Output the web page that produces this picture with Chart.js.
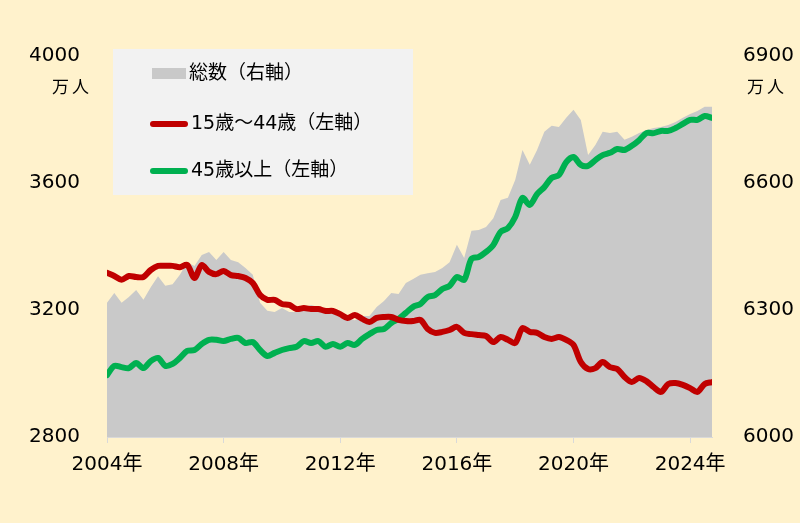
<!DOCTYPE html>
<html>
<head>
<meta charset="utf-8">
<script src="https://cdn.jsdelivr.net/npm/chart.js@4"></script>
<style>
  body { margin: 0; background: #FFF2CC; }
  #wrap { position: relative; width: 800px; height: 523px; background: #FFF2CC; }
  .unit { position: absolute; font: 17px 'Noto Sans CJK JP', sans-serif; color: #000; line-height: 20px; letter-spacing: 3px; }
  #legend { position: absolute; left: 113px; top: 49px; width: 300px; height: 146px; background: #F2F2F2; }
  .item { position: absolute; left: 37px; height: 24px; font: 19px 'DejaVu Sans', 'Noto Sans CJK JP', sans-serif; color: #000; line-height: 24px; white-space: nowrap; }
  .item .sw { display: inline-block; vertical-align: middle; width: 38px; margin-right: 3px; }
</style>
</head>
<body>
<div id="wrap">
  <canvas id="myChart" width="800" height="523"></canvas>
  <div class="unit" style="left:52px; top:76px;">万人</div>
  <div class="unit" style="left:747px; top:76px;">万人</div>
  <div id="legend">
    <div class="item" style="top:11px;"><span class="sw" style="height:11px; background:#C9C9C9; width:34px; margin-left:2px;"></span>総数（右軸）</div>
    <div class="item" style="top:61px;"><span class="sw" style="height:6px; border-radius:3px; background:#C00000;"></span>15歳～44歳（左軸）</div>
    <div class="item" style="top:108px;"><span class="sw" style="height:6px; border-radius:3px; background:#00B050;"></span>45歳以上（左軸）</div>
  </div>
</div>
<script>
// quarterly readings, 2004 Q1 .. 2024 Q4-ish
const startYear = 2004;

const young = [
    3317, 3307, 3295, 3307, 3304, 3304, 3326, 3339, 3339, 3339, 3335, 3342,
    3301, 3342, 3320, 3313, 3323, 3310, 3307, 3301, 3285, 3247, 3232, 3232,
    3219, 3216, 3203, 3206, 3203, 3203, 3197, 3197, 3187, 3175, 3184, 3172,
    3162, 3175, 3178, 3178, 3169, 3165, 3165, 3169, 3140, 3128, 3131, 3137,
    3147, 3128, 3124, 3121, 3118, 3099, 3115, 3106, 3096, 3143, 3131, 3128,
    3115, 3109, 3115, 3106, 3090, 3036, 3014, 3017, 3036, 3020, 3014, 2989,
    2973, 2986, 2976, 2957, 2942, 2967, 2970, 2964, 2954, 2942, 2967, 2973
];

const older = [
    2995, 3024, 3020, 3017, 3033, 3017, 3039, 3049, 3024, 3030, 3049, 3071,
    3074, 3093, 3106, 3106, 3102, 3109, 3112, 3096, 3099, 3074, 3055, 3065,
    3074, 3080, 3084, 3102, 3096, 3102, 3084, 3093, 3084, 3096, 3090, 3109,
    3124, 3137, 3140, 3159, 3172, 3191, 3210, 3219, 3241, 3247, 3266, 3276,
    3304, 3295, 3361, 3367, 3383, 3405, 3446, 3458, 3493, 3553, 3531, 3565,
    3587, 3616, 3625, 3666, 3682, 3657, 3654, 3672, 3688, 3695, 3707, 3704,
    3717, 3735, 3757, 3757, 3764, 3764, 3773, 3786, 3799, 3799, 3811, 3805
];

const total = [
    6317, 6340, 6317, 6331, 6347, 6324, 6354, 6380, 6357, 6361, 6383, 6413,
    6404, 6430, 6437, 6418, 6437, 6418, 6413, 6399, 6383, 6317, 6298, 6295,
    6305, 6295, 6295, 6307, 6312, 6307, 6291, 6293, 6283, 6281, 6276, 6286,
    6286, 6307, 6321, 6340, 6338, 6364, 6373, 6383, 6387, 6390, 6399, 6413,
    6454, 6423, 6487, 6489, 6496, 6517, 6560, 6565, 6607, 6678, 6643, 6678,
    6721, 6735, 6732, 6754, 6773, 6749, 6666, 6690, 6721, 6718, 6721, 6702,
    6709, 6718, 6725, 6730, 6732, 6737, 6744, 6754, 6763, 6770, 6780, 6780
];

const leftTicks = [2800, 3200, 3600, 4000];
const rightTicks = [6000, 6300, 6600, 6900];

function pts(arr) {
    return arr.map((v, i) => ({ x: startYear + i / 4, y: v }));
}

const tickFont = { family: "'DejaVu Sans', 'Noto Sans CJK JP', sans-serif", size: 20 };
const ctx = document.getElementById('myChart');

new Chart(ctx, {
    type: 'line',
    data: {
        datasets: [{
            label: '15歳～44歳（左軸）',
            data: pts(young),
            yAxisID: 'yL',
            borderColor: '#C00000',
            borderWidth: 6,
            pointRadius: 0,
            tension: 0.3,
            borderCapStyle: 'round',
            borderJoinStyle: 'round'
        }, {
            label: '45歳以上（左軸）',
            data: pts(older),
            yAxisID: 'yL',
            borderColor: '#00B050',
            borderWidth: 6,
            pointRadius: 0,
            tension: 0.3,
            borderCapStyle: 'round',
            borderJoinStyle: 'round'
        }, {
            label: '総数（右軸）',
            data: pts(total),
            yAxisID: 'yR',
            borderWidth: 0,
            backgroundColor: '#C9C9C9',
            fill: 'start',
            pointRadius: 0,
            tension: 0
        }]
    },
    options: {
        responsive: false,
        devicePixelRatio: 1,
        animation: false,
        layout: { padding: { top: 56, left: 0, right: 0, bottom: 0 } },
        plugins: { legend: { display: false }, tooltip: { enabled: false } },
        scales: {
            x: {
                type: 'linear',
                min: 2004,
                max: 2024.75,
                afterFit: s => { s.height = 86; },
                border: { display: true, color: '#D9D9D9', width: 1 },
                grid: { display: true, drawOnChartArea: false, drawTicks: true, tickLength: 6, color: '#D9D9D9' },
                ticks: {
                    stepSize: 4,
                    includeBounds: false,
                    padding: 10,
                    color: '#000',
                    font: tickFont,
                    maxRotation: 0,
                    callback: v => v + '年'
                }
            },
            yL: {
                position: 'left',
                min: 2800,
                max: 4000,
                afterFit: s => { s.width = 107; },
                afterBuildTicks: s => { s.ticks = leftTicks.map(v => ({ value: v })); },
                border: { display: false },
                grid: { display: false },
                ticks: { padding: 19, color: '#000', font: tickFont, callback: v => String(v) }
            },
            yR: {
                position: 'right',
                min: 6000,
                max: 6900,
                afterFit: s => { s.width = 88; },
                afterBuildTicks: s => { s.ticks = rightTicks.map(v => ({ value: v })); },
                border: { display: false },
                grid: { display: false },
                ticks: { padding: 23, color: '#000', font: tickFont, callback: v => String(v) }
            }
        }
    }
});
</script>
</body>
</html>
